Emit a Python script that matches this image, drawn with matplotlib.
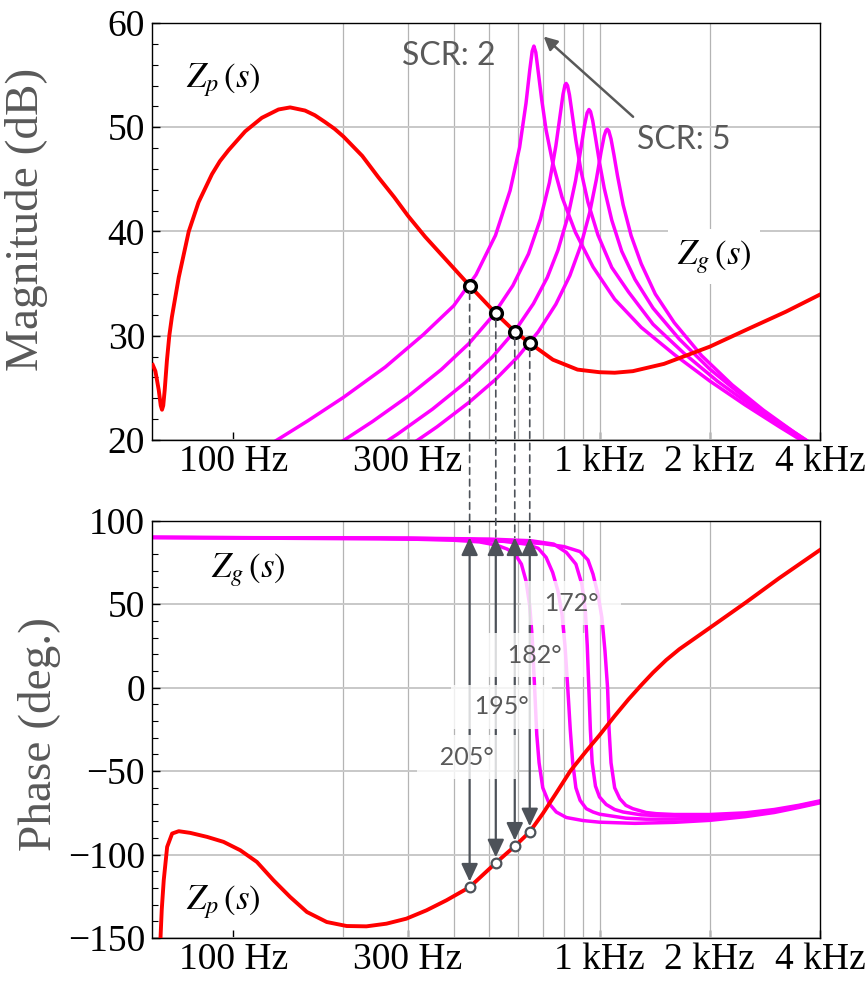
import matplotlib
matplotlib.use("Agg")
import matplotlib.pyplot as plt
from matplotlib.patches import ConnectionPatch
from matplotlib.ticker import MultipleLocator, FixedLocator, NullFormatter

# -----------------------------------------------------------------------------
# data
# -----------------------------------------------------------------------------

tick_freqs = [100, 300, 1000, 2000, 4000]
tick_labels = ["100 Hz", "300 Hz", "1 kHz", "2 kHz", "4 kHz"]
grid_freqs = [200, 300, 400, 500, 600, 700, 800, 900, 1000, 2000]

# Zp(s) magnitude (dB)
zp_mag_f = [60.3, 61.3, 62.6, 63.4, 63.9, 64.4, 65.0, 65.9, 66.9, 68.0, 71.0,
            75.6, 80.4, 87.5, 92.0, 97.1, 107.8, 119.7, 132.9, 143, 157, 167,
            178, 189, 200, 225, 249, 275, 300, 334, 442, 521, 587, 645, 746,
            871, 1000, 1100, 1233, 1500, 2000, 2563, 3226, 4000]
zp_mag = [27.2, 26.6, 24.8, 23.3, 22.9, 23.3, 24.8, 27.6, 30.0, 31.8, 35.6,
          40.0, 42.8, 45.5, 46.75, 47.8, 49.6, 50.9, 51.7, 51.9, 51.6, 51.15,
          50.5, 49.85, 49.1, 47.25, 45.2, 43.3, 41.5, 39.5, 34.8, 32.15, 30.4,
          29.3, 27.7, 26.75, 26.5, 26.45, 26.6, 27.3, 28.95, 30.7, 32.3, 33.95]

# Zp(s) phase (deg)
zp_ph_f = [63.0, 63.3, 63.8, 64.6, 66.0, 68.1, 71.0, 76.3, 84.8, 94.1, 104.5,
           116, 128.8, 143, 158.9, 180, 204, 231, 262, 297, 337, 382, 442,
           521, 587, 645, 700, 760, 832, 920, 1000, 1100, 1200, 1300, 1400,
           1520, 1651, 2036, 2508, 3090, 4000]
zp_ph = [-160, -150, -133, -115.4, -95.4, -87.4, -86, -87, -89.4, -92.4,
         -97.4, -104.4, -115.4, -125.4, -134.4, -140.4, -142.8, -143, -141.4,
         -138.4, -133.4, -127.4, -119.5, -105, -95, -86.4, -75.5, -63.5, -50,
         -38, -28.5, -17, -7, 1.5, 9, 16.5, 23, 37, 51, 65.5, 82.5]

# Zg(s) magnitude (dB), SCR 2..5
zg1_f = [120, 160, 200, 260, 330, 400, 460, 520, 570, 605, 630, 645, 655, 662,
         670, 680, 695, 715, 745, 790, 860, 960, 1100, 1300, 1600, 2000, 2500,
         3100, 3800]
zg1_mag = [19.11, 21.85, 24.09, 26.99, 30.09, 32.88, 35.84, 39.63, 43.92,
           48.05, 52.30, 55.48, 57.30, 57.78, 57.18, 55.37, 52.7, 49.7, 46.6,
           43.3, 39.9, 36.6, 33.5, 30.8, 28.2, 25.66, 23.35, 21.26, 19.35]

zg2_f = [190, 240, 300, 370, 440, 510, 580, 640, 690, 730, 760, 780, 795, 805,
         811, 818, 828, 842, 862, 890, 930, 990, 1080, 1200, 1400, 1700, 2100,
         2600, 3200, 3900]
zg2_mag = [19.44, 21.77, 24.19, 26.76, 29.25, 31.87, 34.81, 37.85, 41.2, 44.7,
           48.2, 51.05, 53.15, 54.05, 54.2, 53.99, 53.09, 51.29, 48.73, 45.82,
           42.8, 39.67, 36.55, 34.2, 31.1, 28.32, 25.63, 23.27, 21.15, 19.24]

zg3_f = [220, 280, 350, 430, 510, 590, 660, 720, 770, 820, 860, 890, 910, 925,
         936, 945, 958, 975, 1000, 1030, 1080, 1150, 1250, 1400, 1650, 2000,
         2500, 3100, 3900]
zg3_mag = [18.11, 20.53, 22.96, 25.5, 27.96, 30.55, 33.07, 35.58, 38.2, 41.45,
           44.85, 48.0, 50.17, 51.37, 51.70, 51.50, 50.64, 49.02, 46.60, 44.16,
           41.09, 38.10, 35.4, 32.65, 29.69, 26.8, 24.02, 21.67, 19.36]

zg4_f = [290, 360, 440, 520, 600, 680, 760, 830, 890, 940, 980, 1010, 1030,
         1042, 1050, 1060, 1075, 1095, 1120, 1160, 1220, 1300, 1420, 1600,
         1900, 2300, 2800, 3400, 4000]
zg4_mag = [18.99, 21.26, 23.60, 25.80, 28.02, 30.37, 33.02, 35.77, 38.70,
           41.80, 44.95, 47.64, 49.17, 49.70, 49.81, 49.65, 48.88, 47.35,
           45.33, 42.56, 39.6, 36.9, 34.0, 31.25, 28.09, 25.3, 22.87, 20.74,
           19.08]

# Zg(s) phase (deg), SCR 2..5
zg1_ph_f = [60, 250, 400, 470, 523, 560, 590, 612, 630, 645, 655, 665, 674,
            684, 700, 729, 762, 812, 900, 1000, 1250, 1600, 2000, 2500, 3000,
            3500, 4000]
zg1_ph = [90, 89.5, 88.3, 87.3, 85.4, 83, 79.5, 74, 64, 49, 30, 0, -28, -45,
          -60, -69.5, -74.5, -77.8, -79.6, -80.6, -81.3, -80.7, -79.5, -77.3,
          -74.8, -71.8, -69.0]

zg2_ph_f = [60, 300, 450, 550, 630, 680, 715, 745, 770, 790, 805, 819, 832, 845,
            862, 885, 920, 960, 1000, 1180, 1340, 1600, 2000, 2500, 3000, 3500,
            4000]
zg2_ph = [90, 89.5, 88.8, 87.6, 86, 83.5, 78, 69, 58, 44, 25, 0, -25, -45, -60,
          -67.5, -72.5, -74.5, -75.8, -78.2, -78.8, -78.8, -78.2, -76.5, -74.2,
          -71.3, -68.6]

zg3_ph_f = [60, 300, 500, 650, 750, 812, 862, 895, 915, 926, 935, 944, 955, 975,
            1000, 1043, 1100, 1160, 1300, 1493, 1800, 2000, 2500, 3000, 3500,
            4000]
zg3_ph = [90, 89.6, 89, 88, 86, 81, 74, 62, 46, 25, 0, -25, -45, -59, -65.5,
          -70, -73, -74.5, -76.2, -76.8, -77.2, -77, -75.8, -73.6, -70.9, -68.2]

zg4_ph_f = [60, 400, 580, 700, 800, 885, 930, 960, 990, 1015, 1035, 1052, 1062,
            1075, 1100, 1136, 1180, 1233, 1340, 1429, 1600, 2000, 2500, 3000,
            3500, 4000]
zg4_ph = [90, 88.8, 87.5, 86.3, 84.5, 81.5, 76.5, 68, 56, 42, 22, 0, -25, -45,
          -60, -66.5, -70.5, -72.5, -74.8, -75.5, -76, -76, -75, -73, -70.5,
          -67.8]

# intersections of |Zp| and |Zg|
cross_f = [442, 521, 587, 645]
cross_mag = [34.8, 32.15, 30.4, 29.3]
cross_ph = [-119.5, -105, -95, -86.4]

# phase margins
margin_labels = ["205°", "195°", "182°", "172°"]
margin_f = [435, 540, 664, 837]
margin_ph = [-41.8, -11.5, 19.5, 50.5]

# -----------------------------------------------------------------------------
# plotting
# -----------------------------------------------------------------------------

plt.rcParams["font.family"] = "Liberation Serif"
plt.rcParams["mathtext.fontset"] = "stix"

RED = "#ff0000"
MAG = "#ff00ff"
DARK = "#4d5259"
GREY_TXT = "#595959"

fig = plt.figure(figsize=(8.66, 9.81), dpi=100)
ax1 = fig.add_axes([0.1755, 0.5515, 0.7714, 0.4251])
ax2 = fig.add_axes([0.1755, 0.0438, 0.7714, 0.4254])

for ax in (ax1, ax2):
    ax.set_xscale("log")
    ax.set_xlim(60, 4000)
    ax.set_xticks(tick_freqs)
    ax.set_xticklabels(tick_labels)
    ax.xaxis.set_minor_locator(FixedLocator(grid_freqs))
    ax.xaxis.set_minor_formatter(NullFormatter())
    ax.xaxis.remove_overlapping_locs = False
    ax.grid(True, which="minor", axis="x", color="#b4b4b4", lw=0.9)
    ax.grid(True, which="major", axis="y", color="#c8c8c8", lw=1.4)
    ax.set_axisbelow(True)
    ax.tick_params(which="both", direction="in", top=False, right=False)
    ax.tick_params(axis="x", which="minor", length=0)
    ax.tick_params(axis="x", which="major", length=6, width=1.0,
                   labelsize=27, pad=3)
    ax.tick_params(axis="y", which="major", length=6, width=1.0,
                   labelsize=27, pad=5)
    ax.tick_params(axis="y", which="minor", length=4, width=0.8)
    for sp in ax.spines.values():
        sp.set_linewidth(1.0)

# magnitude
ax1.set_ylim(20, 60)
ax1.yaxis.set_major_locator(MultipleLocator(10))
ax1.yaxis.set_minor_locator(MultipleLocator(2))
for f, m in [(zg1_f, zg1_mag), (zg2_f, zg2_mag), (zg3_f, zg3_mag), (zg4_f, zg4_mag)]:
    ax1.plot(f, m, color=MAG, lw=2.5, zorder=2)
ax1.plot(zp_mag_f, zp_mag, color=RED, lw=2.8, zorder=3)
ax1.plot(cross_f, cross_mag, "o", ms=8.5, mfc="white", mec="black", mew=2.4,
         zorder=6)
ax1.set_ylabel("Magnitude (dB)", fontsize=34, color=GREY_TXT)
ax1.yaxis.set_label_coords(-0.155, 0.53)

ax1.text(93.7, 53.85, r"$Z_p\,(s)$", fontsize=25, ha="center", va="baseline")
ax1.text(2058, 36.9, r"$Z_g\,(s)$", fontsize=25, ha="center", va="baseline",
         bbox=dict(boxstyle="square,pad=0.25", fc="white", ec="none"), zorder=4)
ax1.text(387, 56.8, "SCR: 2", fontfamily="Lato", fontsize=23, color=GREY_TXT,
         ha="center", va="center")
ax1.text(1704, 48.8, "SCR: 5", fontfamily="Lato", fontsize=23, color=GREY_TXT,
         ha="center", va="center")
ax1.annotate("", xy=(704, 58.7), xytext=(1235, 51.0),
             arrowprops=dict(arrowstyle="-|>", color=GREY_TXT, lw=1.8,
                             mutation_scale=20, shrinkA=0, shrinkB=0))

# phase
ax2.set_ylim(-150, 100)
ax2.yaxis.set_major_locator(MultipleLocator(50))
ax2.yaxis.set_minor_locator(MultipleLocator(10))
for f, p in [(zg1_ph_f, zg1_ph), (zg2_ph_f, zg2_ph), (zg3_ph_f, zg3_ph), (zg4_ph_f, zg4_ph)]:
    ax2.plot(f, p, color=MAG, lw=2.5, zorder=2)
ax2.plot(zp_ph_f, zp_ph, color=RED, lw=2.8, zorder=3)
ax2.set_ylabel("Phase (deg.)", fontsize=34, color=GREY_TXT)
ax2.yaxis.set_label_coords(-0.136, 0.488)

for f, p in zip(cross_f, cross_ph):
    ax2.annotate("", xy=(f, p), xytext=(f, 90),
                 arrowprops=dict(arrowstyle="<|-|>,head_length=0.77,head_width=0.36",
                                 color=DARK, lw=1.6, mutation_scale=14,
                                 shrinkA=0, shrinkB=4), zorder=4)
ax2.plot(cross_f, cross_ph, "o", ms=7, mfc="white", mec=DARK, mew=1.6, zorder=7)

for lab, f, p in zip(margin_labels, margin_f, margin_ph):
    ax2.text(f, p, "  " + lab + "  ", fontfamily="Lato", fontsize=18,
             color=GREY_TXT, ha="center", va="center", zorder=6,
             bbox=dict(boxstyle="square,pad=0.42", fc="white", ec="none",
                       alpha=0.8))

ax2.text(110, 66.1, r"$Z_g\,(s)$", fontsize=25, ha="center", va="baseline")
ax2.text(93.7, -132.8, r"$Z_p\,(s)$", fontsize=25, ha="center", va="baseline")

# dashed links from the crossings down to the phase plot
for f, m in zip(cross_f, cross_mag):
    con = ConnectionPatch(xyA=(f, m), coordsA=ax1.transData,
                          xyB=(f, 90), coordsB=ax2.transData,
                          arrowstyle="-", linestyle=(0, (4, 3)), color=DARK,
                          lw=1.2, shrinkA=5, shrinkB=0)
    fig.add_artist(con)

fig.savefig("out.png", dpi=100)
plt.close(fig)
